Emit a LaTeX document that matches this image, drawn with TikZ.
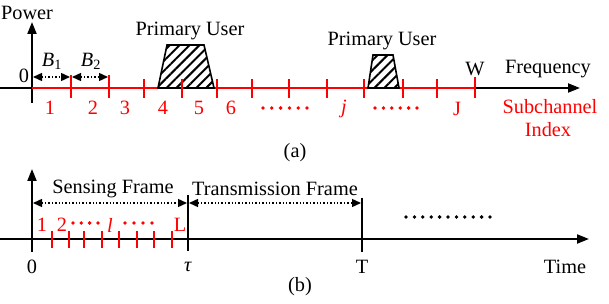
\documentclass[tikz,border=0pt]{standalone}
\usepackage{fontspec}
\setmainfont{Liberation Serif}
\usetikzlibrary{arrows.meta,patterns.meta}
\begin{document}
\begin{tikzpicture}[x=1pt,y=-1pt,font=\fontsize{20.3}{23}\selectfont,
  axis/.style={line width=2pt},
  axisarrow/.style={line width=2pt,-{Triangle[length=12pt,width=9pt]}},
  redline/.style={red,line width=1.6pt},
  tickmark/.style={red,line width=1.6pt},
  lbl/.style={inner sep=0pt},
  rlbl/.style={text=red,inner sep=0pt},
  dimarrow/.style={dotted,line width=1.4pt,{Triangle[length=9pt,width=8pt]}-{Triangle[length=9pt,width=8pt]}},
  pu/.style={draw,line width=1.6pt,pattern={Lines[angle=45,distance=7pt,line width=2pt]}},
  dotmark/.style={circle,fill,inner sep=0pt,minimum size=3.8pt}]
\useasboundingbox (0,0) rectangle (609,304);
% ---------- (a) ----------
\coordinate (aL) at (0,88);
\coordinate (o1) at (32,88);
\coordinate (w1) at (475,88);
\coordinate (aR) at (580,88);
\coordinate (pb) at (32,103);
\coordinate (pt) at (32,22);
\draw[axis] (aL) -- (o1);
\draw[axisarrow] (pb) -- (pt);
\draw[redline] (o1) -- (w1);
\draw[axisarrow] (w1) -- (aR);
% primary users
\draw[pu] (158,88) -- (167,45) -- (204,45) -- (214,88) -- cycle;
\draw[pu] (368,88) -- (373,55) -- (393,55) -- (399,88) -- cycle;
% ticks
\foreach \x in {144,182,217,252,289,327,364,403,437}
  \draw[tickmark] (\x,79) -- (\x,98);
\foreach \x in {71,109}
  \draw[tickmark] (\x,75) -- (\x,98);
\draw[tickmark] (475,77) -- (475,98);
% bandwidth arrows
\coordinate (b1s) at (33,77);
\coordinate (b1e) at (70,77);
\coordinate (b2s) at (72,77);
\coordinate (b2e) at (108,77);
\draw[dimarrow] (b1s) -- (b1e);
\draw[dimarrow] (b2s) -- (b2e);
\node[lbl] (B1) at (52,61) {\textit{B}\textsubscript{1}};
\node[lbl] (B2) at (91,61) {\textit{B}\textsubscript{2}};
\node[lbl] (power) at (27,13) {Power};
\node[lbl] (zero1) at (24,76) {0};
\node[lbl] (pu1) at (190,31) {Primary User};
\node[lbl] (pu2) at (382,41) {Primary User};
\node[lbl] (W) at (475,69) {W};
\node[lbl] (freq) at (548,69) {Frequency};
% red labels
\node[rlbl] (n1) at (50,108) {1};
\node[rlbl] (n2) at (93,108) {2};
\node[rlbl] (n3) at (125,108) {3};
\node[rlbl] (n4) at (163,108) {4};
\node[rlbl] (n5) at (199,108) {5};
\node[rlbl] (n6) at (231,108) {6};
\node[rlbl] (nj) at (344,109) {\textit{j}};
\node[rlbl] (nJ) at (457,109) {J};
\node[rlbl] (sub) at (550,107) {Subchannel};
\node[rlbl] (idx) at (548,130) {Index};
\foreach \i in {0,...,5} {
  \node[dotmark,red] at (263+8.8*\i,108) {};
  \node[dotmark,red] at (375+8.4*\i,108) {};
}
\node[lbl] (capa) at (295,153) {(a)};
% ---------- (b) ----------
\coordinate (tL) at (0,239);
\coordinate (tR) at (589,239);
\coordinate (vb) at (32,252);
\coordinate (vt) at (32,169);
\draw[axisarrow] (tL) -- (tR);
\draw[axisarrow] (vb) -- (vt);
\coordinate (taut) at (188,195);
\coordinate (taub) at (188,251);
\coordinate (Tt) at (362,198);
\coordinate (Tb) at (362,252);
\draw[axis] (taut) -- (taub);
\draw[axis] (Tt) -- (Tb);
\coordinate (sfs) at (33,203);
\coordinate (sfe) at (187,203);
\coordinate (tfs) at (189,203);
\coordinate (tfe) at (361,203);
\draw[dimarrow] (sfs) -- (sfe);
\draw[dimarrow] (tfs) -- (tfe);
\node[lbl] (sf) at (113,189) {Sensing Frame};
\node[lbl] (tf) at (275,189) {Transmission Frame};
\foreach \x in {52,69,84,102,119,137,154,172}
  \draw[tickmark] (\x,231) -- (\x,248);
\node[rlbl] (l1) at (42,225) {1};
\node[rlbl] (l2) at (62,225) {2};
\node[rlbl] (ll) at (110,225) {\textit{l}};
\node[rlbl] (lL) at (180,225) {L};
\foreach \i in {0,...,3} {
  \node[dotmark,red] at (73+8.3*\i,223) {};
  \node[dotmark,red] at (125+9*\i,223) {};
}
\foreach \i in {0,...,10}
  \node[dotmark] at (406+8.4*\i,217) {};
\node[lbl] (zero2) at (32,267) {0};
\node[lbl] (tau) at (188,267) {\textit{τ}};
\node[lbl] (T) at (362,267) {T};
\node[lbl] (time) at (565,267) {Time};
\node[lbl] (capb) at (300,287) {(b)};
\end{tikzpicture}
\end{document}
